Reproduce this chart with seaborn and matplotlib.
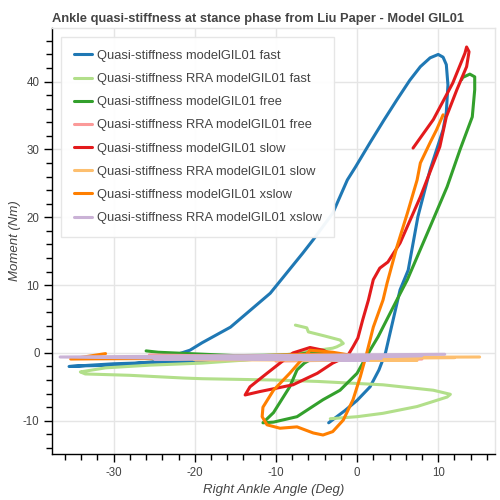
import pandas as pd
import matplotlib
matplotlib.use("Agg")
import matplotlib.pyplot as plt
from matplotlib.ticker import MultipleLocator
import seaborn as sns

# series labels (legend order)
labels = [
    "Quasi-stiffness modelGIL01 fast",
    "Quasi-stiffness RRA modelGIL01 fast",
    "Quasi-stiffness modelGIL01 free",
    "Quasi-stiffness RRA modelGIL01 free",
    "Quasi-stiffness modelGIL01 slow",
    "Quasi-stiffness RRA modelGIL01 slow",
    "Quasi-stiffness modelGIL01 xslow",
    "Quasi-stiffness RRA modelGIL01 xslow",
]
colors = ["#1f78b4", "#b2df8a", "#33a02c", "#fb9a99",
          "#e31a1c", "#fdbf6f", "#ff7f00", "#cab2d6"]

# angle (deg) / moment (Nm)
fast_x = [-5.5, -8, -12, -18, -25, -30, -35.5, -33.5, -29.3, -25.2, -22.4, -20.6, -19.1,
          -15.6, -10.7, -6.7, -5.4, -3, -1.2, -0.2, 1.6, 3.3, 4.9, 6.5, 7.8, 9, 10, 10.6,
          11.0, 11.2, 11.0, 10.6, 9.0, 7.5, 6.3, 5.3, 3.5, 2.7, 1.6, 0, -1.5, -3.5]
fast_y = [0.3, -0.3, -0.9, -1.2, -1.4, -1.6, -2.0, -1.9, -1.8, -1.3, -0.3, 0.4, 1.5,
          3.8, 8.8, 14.7, 16.7, 20.6, 25.5, 27.4, 31, 34.3, 37.3, 40.2, 42.2, 43.5, 44, 43.6,
          42.5, 39.5, 35.5, 32.9, 27, 20.1, 12.2, 9.3, 0, -2.5, -5, -7, -8.5, -10.3]

rra_fast_x = [-7.6, -6.2, -6, -4, -2.1, -1.7, -2.5, -3, -6, -13.2, -19.1, -25.5, -31, -34.1,
              -33.5, -28, -21.4, -19.1, -10, -4.9, 3.2, 9.4, 11.5, 11.1, 9, 7.4, 3.2, 0, -3.3]
rra_fast_y = [4.1, 3.7, 3.1, 2.5, 1.9, 1.4, 0.9, 0.7, 0.2, -1.0, -1.5, -1.8, -2.2, -2.8,
              -3.1, -3.3, -3.7, -3.8, -4.0, -4.2, -4.7, -5.5, -6.1, -6.5, -7.3, -7.9, -8.9, -9.4, -9.7]

free_x = [-26, -24.5, -15, -8, -4, -5, -6.5, -7.4, -8.3, -10.3, -11.6, -10.3, -7.4, -4.2,
          -2.1, 0, 1.6, 2.6, 4.9, 6.2, 9, 11.1, 12.7, 14.2, 14.5, 14.5, 13.9, 13, 12.9]
free_y = [0.3, 0.1, -0.4, -0.3, 0.3, -0.5, -1.5, -2.5, -5.0, -8.8, -10.3, -10.2, -9.4, -6.9,
          -5.5, -3, 0.4, 2.4, 7.8, 10.8, 18.6, 24.5, 30, 34.8, 38.8, 40.7, 41.1, 40.6, 40.3]

rra_free_x = [-25.6, 8, -10, 3, -20]
rra_free_y = [-0.3, -0.9, -1.2, -0.5, -0.6]

slow_x = [6.9, 9.4, 11.8, 13.3, 13.5, 13.8, 13.5, 12.3, 11, 10.2, 7.8, 5.3, 3.8, 2.8, 2,
          1.4, 0.7, 0.1, -0.5, -1.2, -3, -4.9, -7.9, -12, -13.8, -13.2, -11.1, -7.9, -5.8,
          -4.2, -3, -1.5]
slow_y = [30.2, 34.4, 39.8, 44.2, 45.1, 44.4, 42.2, 38.8, 34.8, 30.4, 23, 16.2, 13.4, 12.5,
          10.8, 7.8, 4.9, 2.2, 0.9, -0.5, -1.5, -3, -4.7, -5.7, -6.2, -5, -3, 0, 0.8,
          0.4, -0.3, -0.5]

rra_slow_x = [15.1, -34, 7.4, -20, 12]
rra_slow_y = [-0.6, -0.8, -1.1, -1.0, -0.7]

xslow_x = [-31, -35.3, -25, -15, -6, -1, -3, -5.8, -8.3, -10.3, -11.6, -11.7, -11.1, -9.5,
           -7.4, -5.4, -4.2, -3, -1.7, -0.5, 0.4, 1.2, 2, 3.2, 3.7, 4.9, 6.2, 7.4, 7.8, 9,
           9.8, 10.6]
xslow_y = [-0.1, -0.9, -0.8, -0.5, -0.2, -0.3, 0.1, 0.4, -3, -5.5, -8, -9.4, -10.6, -11.1,
           -10.9, -11.8, -12.1, -11.6, -9.9, -6.9, -3.5, 0, 3.8, 7.8, 10.3, 15.6, 20.6, 25.5, 28, 31,
           32.9, 35.1]

rra_xslow_x = [10.8, -36.6, 1.4, -15, 8, -25, 3]
rra_xslow_y = [-0.2, -0.6, -1.1, -0.7, -0.4, -0.9, -0.8]

series = [(fast_x, fast_y), (rra_fast_x, rra_fast_y), (free_x, free_y),
          (rra_free_x, rra_free_y), (slow_x, slow_y), (rra_slow_x, rra_slow_y),
          (xslow_x, xslow_y), (rra_xslow_x, rra_xslow_y)]

frames = []
for lab, (xs, ys) in zip(labels, series):
    frames.append(pd.DataFrame({"angle": xs, "moment": ys, "series": lab}))
df = pd.concat(frames, ignore_index=True)

sns.set_style("white")
plt.rcParams["font.family"] = ["Liberation Sans", "DejaVu Sans"]
plt.rcParams["axes.unicode_minus"] = False

fig = plt.figure(figsize=(5, 5), dpi=100)
ax = fig.add_axes([0.104, 0.092, 0.886, 0.852])

sns.lineplot(data=df, x="angle", y="moment", hue="series", hue_order=labels,
             palette=dict(zip(labels, colors)), sort=False, estimator=None,
             linewidth=2.2, ax=ax)

ax.set_xlim(-37.6, 17.0)
ax.set_ylim(-14.9, 47.9)
ax.xaxis.set_major_locator(MultipleLocator(10))
ax.xaxis.set_minor_locator(MultipleLocator(2))
ax.yaxis.set_major_locator(MultipleLocator(10))
ax.yaxis.set_minor_locator(MultipleLocator(2))
ax.grid(True, which="major", color="#e5e5e5", linewidth=1)
ax.set_axisbelow(True)

for s in ["top", "right"]:
    ax.spines[s].set_color("#e5e5e5")
    ax.spines[s].set_linewidth(1)
for s in ["left", "bottom"]:
    ax.spines[s].set_color("black")
    ax.spines[s].set_linewidth(1)

ax.tick_params(which="major", direction="out", length=6, width=1, color="black",
               labelsize=8.3, labelcolor="#444444", left=True, bottom=True, pad=3)
ax.tick_params(which="minor", direction="out", length=4, width=1, color="black",
               left=True, bottom=True)

ax.set_xlabel("Right Ankle Angle (Deg)", fontsize=9.5, style="italic", color="#444444",
              labelpad=4)
ax.set_ylabel("Moment (Nm)", fontsize=9.5, style="italic", color="#444444", labelpad=1)
ax.set_title("Ankle quasi-stiffness at stance phase from Liu Paper - Model GIL01",
             loc="left", fontsize=9.3, fontweight="bold", color="#444444", pad=4)

leg = ax.legend(loc="upper left", fontsize=9.3, handlelength=1.4, handletextpad=0.35,
                labelspacing=0.86, borderpad=1.0, borderaxespad=0.7, frameon=True,
                fancybox=False, framealpha=0.95, labelcolor="#444444")
leg.get_frame().set_edgecolor("#e5e5e5")
leg.get_frame().set_linewidth(1)

fig.savefig("out.png", dpi=100)
